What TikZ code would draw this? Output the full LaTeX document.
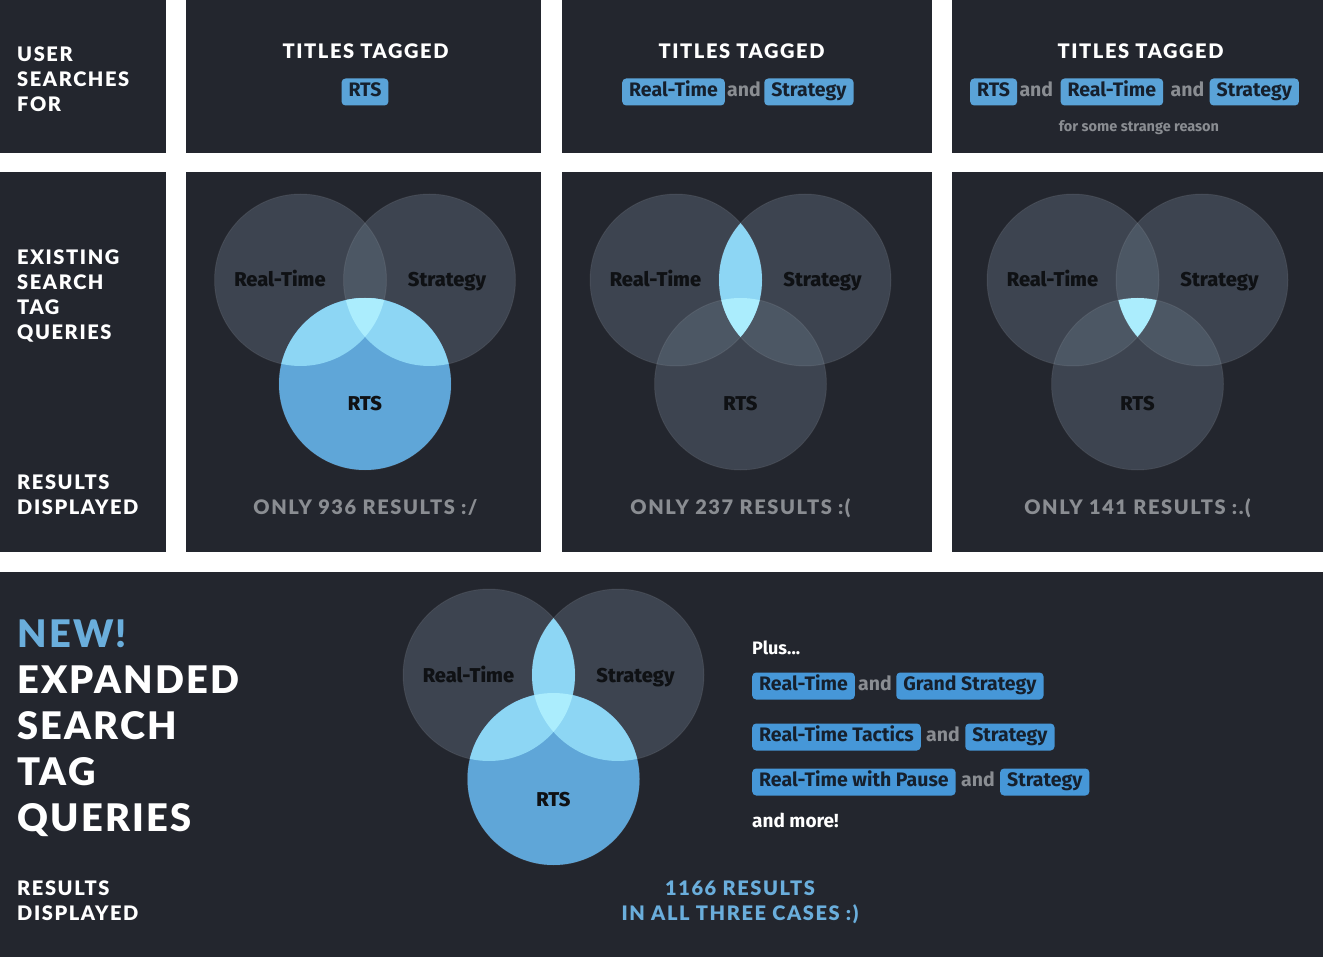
\documentclass[tikz,border=0pt]{standalone}
\usepackage{fontspec}
\setmainfont{Fira Sans}
\newfontfamily\headfont{Lato}[LetterSpace=8, BoldFont={Lato Black}]
\newfontfamily\bigfont{Lato}[LetterSpace=6, BoldFont={Lato Black}]
\newfontfamily\heavyfont{Fira Sans ExtraBold}
\usetikzlibrary{positioning}
\definecolor{bgpanel}{HTML}{23262E}
\definecolor{cgray}{HTML}{3D4450}
\definecolor{cgray2}{HTML}{4C5764}
\definecolor{cblue}{HTML}{5FA6D8}
\definecolor{clight}{HTML}{8DD6F4}
\definecolor{ctriple}{HTML}{ABEDFD}
\definecolor{tagblue}{HTML}{5AA3D8}
\definecolor{tagblue2}{HTML}{4697D8}
\definecolor{tagtext}{HTML}{16202D}
\definecolor{graytext}{HTML}{8A8D92}
\definecolor{bluetext}{HTML}{6AAEDC}
\definecolor{vtext}{HTML}{0F1114}
\tikzset{
 panel/.style={fill=bgpanel},
 head/.style={font=\headfont\bfseries\fontsize{20}{25}\selectfont, text=white, inner sep=0pt, align=left},
 bighead/.style={font=\bigfont\bfseries\fontsize{38}{46}\selectfont, text=white, inner sep=0pt, align=left},
 result/.style={font=\headfont\bfseries\fontsize{20}{25}\selectfont, text=graytext, inner sep=0pt},
 tag/.style={fill=tagblue, text=tagtext, rounded corners=4pt, font=\bfseries\fontsize{19.5}{22}\selectfont, inner xsep=7pt, inner ysep=0pt, text height=14pt, text depth=4.5pt, minimum height=27pt},
 tagb/.style={tag, fill=tagblue2},
 andtxt/.style={text=graytext, font=\bfseries\fontsize{19.5}{22}\selectfont, inner xsep=2pt, inner ysep=0pt, text height=14pt, text depth=4.5pt},
 plain/.style={text=white, font=\bfseries\fontsize{19}{22}\selectfont, inner sep=0pt, anchor=west},
 vlabel/.style={font=\heavyfont\fontsize{20}{23}\selectfont, text=vtext, inner sep=0pt, anchor=base},
 vedge/.style={draw=white, draw opacity=0.07, line width=1pt},
}
\newcommand\R{86pt}
\newcommand\vennbase[3]{%
 \coordinate (#1rt) at ({#2-64.5},#3);
 \coordinate (#1st) at ({#2+64.5},#3);
 \coordinate (#1rs) at (#2,{#3+104});
 \fill[cgray] (#1rt) circle[radius=\R];
 \fill[cgray] (#1st) circle[radius=\R];
 \fill[cgray] (#1rs) circle[radius=\R];
 \begin{scope}\clip (#1rt) circle[radius=\R]; \fill[cgray2] (#1st) circle[radius=\R]; \fill[cgray2] (#1rs) circle[radius=\R];\end{scope}
 \begin{scope}\clip (#1st) circle[radius=\R]; \fill[cgray2] (#1rs) circle[radius=\R];\end{scope}
}
\newcommand\vennedges[1]{%
 \path[vedge] (#1rt) circle[radius=\R];
 \path[vedge] (#1st) circle[radius=\R];
 \path[vedge] (#1rs) circle[radius=\R];
}
\newcommand\hlrts[1]{\fill[cblue] (#1rs) circle[radius=\R];}
\newcommand\hlpair[3]{\begin{scope}\clip (#1#2) circle[radius=\R]; \fill[clight] (#1#3) circle[radius=\R];\end{scope}}
\newcommand\hltriple[1]{\begin{scope}\clip (#1rt) circle[radius=\R]; \clip (#1st) circle[radius=\R]; \fill[ctriple] (#1rs) circle[radius=\R];\end{scope}}
\newcommand\vennlabels[3]{%
 \node[vlabel] (#1lrt) at ({#2-85},{#3+7}) {Real-Time};
 \node[vlabel] (#1lst) at ({#2+82},{#3+7}) {Strategy};
 \node[vlabel] (#1lrs) at (#2,{#3+131}) {RTS};
}
\begin{document}
\begin{tikzpicture}[x=1pt,y=-1pt]
\useasboundingbox (0,0) rectangle (1323,957);
\fill[white] (0,0) rectangle (1323,957);
% panels
\fill[panel] (0,0) rectangle (166,153);
\fill[panel] (186,0) rectangle (541,153);
\fill[panel] (562,0) rectangle (932,153);
\fill[panel] (952,0) rectangle (1323,153);
\fill[panel] (0,172) rectangle (166,552);
\fill[panel] (186,172) rectangle (541,552);
\fill[panel] (562,172) rectangle (932,552);
\fill[panel] (952,172) rectangle (1323,552);
\fill[panel] (0,572) rectangle (1323,957);

% left column labels
\node[head, anchor=north west] (user) at (17,47) {USER\\SEARCHES\\FOR};
\node[head, anchor=north west] (existing) at (17,250) {EXISTING\\SEARCH\\TAG\\QUERIES};
\node[head, anchor=north west] (results1) at (17,475) {RESULTS\\DISPLAYED};

% top row
\node[head, anchor=north] (tt1) at (365.5,44) {TITLES TAGGED};
\node[head, anchor=north] (tt2) at (741.5,44) {TITLES TAGGED};
\node[head, anchor=north] (tt3) at (1140.5,44) {TITLES TAGGED};

\node[tag] (p1rts) at (365,92) {RTS};

\node[tag, anchor=west] (p2rt) at (622,92) {Real-Time};
\node[andtxt, right=0pt of p2rt] (p2and) {and};
\node[tag, right=1pt of p2and] (p2st) {Strategy};

\node[tag, anchor=west] (p3rts) at (970,92) {RTS};
\node[andtxt, right=0pt of p3rts] (p3and1) {and};
\node[tag, right=5pt of p3and1] (p3rt) {Real-Time};
\node[andtxt, right=5pt of p3rt] (p3and2) {and};
\node[tag, right=3pt of p3and2] (p3st) {Strategy};
\node[text=graytext, font=\bfseries\fontsize{14.5}{17}\selectfont, inner sep=0pt] (reason) at (1139,128) {for some strange reason};

% venn 1
\vennbase{a}{365}{280}
\vennedges{a}
\hlrts{a}
\hlpair{a}{rs}{rt}
\hlpair{a}{rs}{st}
\hltriple{a}
\vennlabels{a}{365}{280}
% venn 2
\vennbase{b}{740.5}{280}
\vennedges{b}
\hlpair{b}{rt}{st}
\hltriple{b}
\vennlabels{b}{740.5}{280}
% venn 3
\vennbase{c}{1137.5}{280}
\vennedges{c}
\hltriple{c}
\vennlabels{c}{1137.5}{280}

\node[result] (r1) at (365.5,508) {ONLY 936 RESULTS :/};
\node[result] (r2) at (740.5,508) {ONLY 237 RESULTS :(};
\node[result] (r3) at (1137.5,508) {ONLY 141 RESULTS :.(};

% bottom
\node[bighead, anchor=north west] (newq) at (17,620) {\textcolor{bluetext}{NEW!}\\EXPANDED\\SEARCH\\TAG\\QUERIES};
\node[head, anchor=north west] (results2) at (17,881) {RESULTS\\DISPLAYED};

\vennbase{d}{553.5}{675}
\vennedges{d}
\hlrts{d}
\hlpair{d}{rt}{st}
\hlpair{d}{rs}{rt}
\hlpair{d}{rs}{st}
\hltriple{d}
\vennlabels{d}{553.5}{675}

\node[head, text=bluetext, align=center, anchor=north] (total) at (740,881) {1166 RESULTS\\IN ALL THREE CASES :)};

\node[plain, font=\bfseries\fontsize{18}{20}\selectfont] (plus) at (752,648) {Plus...};
\node[tagb, anchor=west] (l1a) at (752,686) {Real-Time};
\node[andtxt, right=1pt of l1a] (l1and) {and};
\node[tagb, right=2pt of l1and] (l1b) {Grand Strategy};
\node[tagb, anchor=west] (l2a) at (752,737) {Real-Time Tactics};
\node[andtxt, right=3pt of l2a] (l2and) {and};
\node[tagb, right=3pt of l2and] (l2b) {Strategy};
\node[tagb, anchor=west] (l3a) at (752,782) {Real-Time with Pause};
\node[andtxt, right=3pt of l3a] (l3and) {and};
\node[tagb, right=3pt of l3and] (l3b) {Strategy};
\node[plain] (more) at (752,820) {and more!};
\end{tikzpicture}
\end{document}
